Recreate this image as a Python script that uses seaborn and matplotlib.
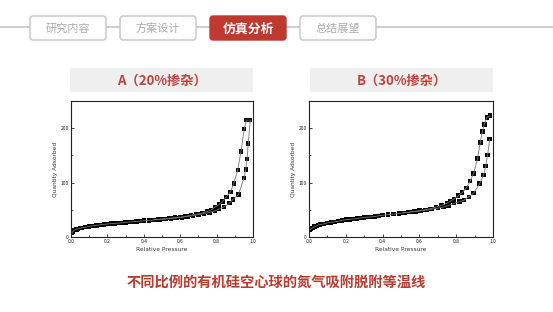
import numpy as np
import pandas as pd
import matplotlib
matplotlib.use("Agg")
import matplotlib.pyplot as plt
from matplotlib.patches import FancyBboxPatch, Rectangle
from matplotlib.ticker import MultipleLocator
import seaborn as sns

# ---------------- data ----------------
nav_tabs = ["研究内容", "方案设计", "仿真分析", "总结展望"]
active_tab = "仿真分析"
panel_titles = ["A（20%掺杂）", "B（30%掺杂）"]
caption = "不同比例的有机硅空心球的氮气吸附脱附等温线"
x_label = "Relative Pressure"
y_label = "Quantity Adsorbed"

a_ads_x = [0.005, 0.01, 0.02, 0.03, 0.04, 0.05, 0.06, 0.08, 0.10, 0.12, 0.14, 0.16, 0.18, 0.20,
           0.22, 0.24, 0.26, 0.28, 0.30, 0.32, 0.34, 0.36, 0.38, 0.40, 0.43, 0.46, 0.49, 0.52,
           0.55, 0.58, 0.61, 0.64, 0.67, 0.70, 0.73, 0.76, 0.79, 0.81, 0.84, 0.87, 0.89, 0.92,
           0.95, 0.96, 0.967, 0.974, 0.985]
a_ads_y = [7, 10, 13, 14, 15, 16, 17, 18, 19.5, 20.5, 21.5, 22.5, 23, 24,
           24.5, 25, 25.5, 26, 27, 27.5, 28, 28.5, 29, 30, 30.5, 31.5, 32, 33,
           34, 35, 36, 38, 39, 41, 43, 45, 48, 51, 55, 62, 69, 78,
           108, 124, 143, 172, 215]
a_des_x = [0.978, 0.964, 0.952, 0.934, 0.916, 0.894, 0.876, 0.854, 0.832, 0.814, 0.792, 0.77,
           0.75, 0.72, 0.69, 0.66, 0.63, 0.60, 0.57, 0.54, 0.51, 0.48, 0.45]
a_des_y = [215, 215, 199, 157, 123, 98, 83, 74, 65, 60, 55, 50,
           47, 44, 42, 40, 38, 36.5, 35.5, 34.5, 33.5, 32.5, 31.5]

b_ads_x = [0.005, 0.01, 0.02, 0.03, 0.04, 0.05, 0.06, 0.08, 0.10, 0.12, 0.14, 0.16, 0.18, 0.20,
           0.22, 0.24, 0.26, 0.28, 0.30, 0.32, 0.34, 0.36, 0.38, 0.40, 0.43, 0.46, 0.49, 0.52,
           0.55, 0.58, 0.61, 0.64, 0.67, 0.70, 0.73, 0.758, 0.789, 0.818, 0.844, 0.869, 0.895,
           0.927, 0.949, 0.96, 0.971, 0.982]
b_ads_y = [13, 15, 17, 19, 20, 22, 23, 24, 26, 27, 28, 29, 30.5, 32,
           32.5, 33, 34, 35, 36, 36.5, 37, 38, 39, 40, 41, 42, 43.5, 44.5,
           45.5, 47, 48, 49.5, 51, 53, 55, 58, 62, 65, 68, 74, 81,
           98, 114, 130, 151, 180]
b_des_x = [0.985, 0.967, 0.953, 0.942, 0.931, 0.916, 0.895, 0.876, 0.855, 0.833, 0.811, 0.789,
           0.77, 0.75, 0.72, 0.69, 0.66, 0.63, 0.60, 0.57, 0.54, 0.51]
b_des_y = [223, 220, 207, 194, 174, 144, 117, 103, 90, 82, 76, 70,
           66, 62, 58, 55, 52, 50, 48.5, 47, 45.5, 44.5]

# ---------------- style ----------------
sns.set_style("ticks")
plt.rcParams['font.family'] = ['Noto Sans CJK SC', 'DejaVu Sans']

RED = "#c0392f"
W, H = 553, 312
fig = plt.figure(figsize=(W / 100, H / 100), dpi=100)
fig.patch.set_facecolor("white")

# overlay in pixel coords for decorations
bg = fig.add_axes([0, 0, 1, 1], zorder=0)
bg.set_xlim(0, W)
bg.set_ylim(H, 0)
bg.axis("off")

# navigation bar
bg.plot([0, W], [27, 27], color="#c8c8c8", lw=1.3, zorder=1)
tab_x = [30, 120, 210, 300]
for name, x0 in zip(nav_tabs, tab_x):
    active = name == active_tab
    box = FancyBboxPatch((x0, 16), 76, 24, boxstyle="round,pad=0,rounding_size=3",
                         facecolor=RED if active else "white",
                         edgecolor=RED if active else "#c4c4c4", lw=1.0, zorder=2)
    bg.add_patch(box)
    bg.text(x0 + 38, 28.5, name, ha="center", va="center",
            fontsize=9.3 if active else 8.0,
            fontweight="bold" if active else "normal",
            color="white" if active else "#ababab", zorder=3)

# panel title bands
for (x0, x1), t in zip([(70, 253), (310, 493)], panel_titles):
    bg.add_patch(Rectangle((x0, 68), x1 - x0, 24, facecolor="#efefef", edgecolor="none", zorder=1))
    bg.text((x0 + x1) / 2, 80.5, t, ha="center", va="center", fontsize=9.5,
            fontweight="bold", color="#c4403a", zorder=2)

# caption
bg.text(276, 283, caption, ha="center", va="center", fontsize=10.3,
        fontweight="bold", color=RED)

# ---------------- plots ----------------
panels = [
    (71, 253, a_ads_x, a_ads_y, a_des_x, a_des_y),
    (309, 493, b_ads_x, b_ads_y, b_des_x, b_des_y),
]
for (px0, px1, ax_x, ax_y, dx, dy) in panels:
    ax = fig.add_axes([px0 / W, (H - 237) / H, (px1 - px0) / W, (237 - 101) / H], zorder=2)
    ax.set_facecolor("white")
    for xs, ys in [(ax_x, ax_y), (dx, dy)]:
        df = pd.DataFrame({"x": xs, "y": ys})
        sns.lineplot(data=df, x="x", y="y", sort=False, ax=ax, color="#777777",
                     lw=0.6, estimator=None)
        sns.scatterplot(data=df, x="x", y="y", ax=ax, marker="s", s=10,
                        color="black", edgecolor="none", linewidth=0)
    ax.set_xlim(0, 1.0)
    ax.set_ylim(0, 250)
    ax.xaxis.set_major_locator(MultipleLocator(0.2))
    ax.xaxis.set_minor_locator(MultipleLocator(0.1))
    ax.yaxis.set_major_locator(MultipleLocator(100))
    ax.yaxis.set_minor_locator(MultipleLocator(50))
    ax.set_xticks([0, 0.2, 0.4, 0.6, 0.8, 1.0])
    ax.set_xticklabels(["0.0", "0.2", "0.4", "0.6", "0.8", "1.0"])
    ax.tick_params(which="both", direction="in", top=False, right=False,
                   labelsize=3.6, width=0.6, colors="#222222", pad=1.5)
    ax.tick_params(which="major", length=2.5)
    ax.tick_params(which="minor", length=1.5)
    ax.set_xlabel(x_label, fontsize=4.2, labelpad=2, color="#333333",
                  family=["DejaVu Sans"])
    ax.set_ylabel(y_label, fontsize=4.2, labelpad=2, color="#333333",
                  family=["DejaVu Sans"])
    for s in ax.spines.values():
        s.set_linewidth(0.8)
        s.set_color("#222222")

fig.savefig("out.png", dpi=100, facecolor="white")
